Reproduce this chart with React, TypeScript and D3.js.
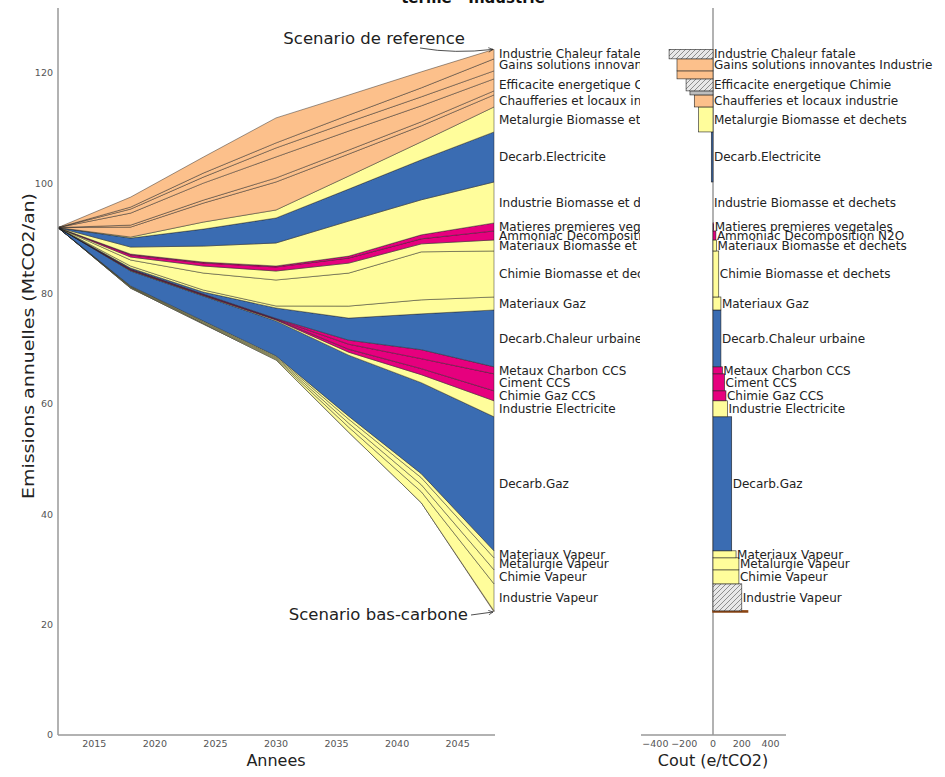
import React, { useEffect, useRef } from 'react';
import * as d3 from 'd3';

// time steps of the model
const YEARS = [2012, 2018, 2024, 2030, 2036, 2042, 2048];
// low-carbon scenario emissions (MtCO2/an)
const BAS_CARBONE = [92, 81.0, 74.5, 68.0, 54.9, 42.1, 22.3];

// measures stacked from the low-carbon curve up to the reference curve
const MEASURES = [
  '',
  'Industrie Vapeur',
  'Chimie Vapeur',
  'Metalurgie Vapeur',
  'Materiaux Vapeur',
  'Decarb.Gaz',
  'Industrie Electricite',
  'Chimie Gaz CCS',
  'Ciment CCS',
  'Metaux Charbon CCS',
  'Decarb.Chaleur urbaine',
  'Materiaux Gaz',
  'Chimie Biomasse et dechets',
  'Materiaux Biomasse et dechets',
  'Ammoniac Decomposition N2O',
  'Matieres premieres vegetales',
  'Industrie Biomasse et dechets',
  'Decarb.Electricite',
  'Metalurgie Biomasse et dechets',
  'Chaufferies et locaux industrie',
  '',
  'Efficacite energetique Chimie',
  '',
  'Gains solutions innovantes Industrie',
  'Industrie Chaleur fatale',
];

// abatement per measure for each year (MtCO2/an)
const ABATEMENT = [
  [0, 0, 0, 0, 0, 0, 0.2],
  [0, 0.1, 0.13, 0.18, 0.9, 2.0, 4.9],
  [0, 0.1, 0.13, 0.18, 0.73, 1.27, 2.54],
  [0, 0.1, 0.15, 0.18, 0.73, 1.27, 2.18],
  [0, 0.1, 0.15, 0.18, 0.54, 0.73, 1.27],
  [0, 2.72, 4.53, 6.35, 11.06, 16.5, 24.3],
  [0, 0.09, 0.09, 0.18, 0.54, 1.45, 2.9],
  [0, 0.09, 0.09, 0.09, 0.54, 1.09, 1.81],
  [0, 0.09, 0.09, 0.09, 0.91, 1.81, 3.08],
  [0, 0.09, 0.09, 0.09, 0.73, 1.63, 1.27],
  [0, 0.18, 0.36, 1.9, 4.0, 6.5, 10.3],
  [0, 0.36, 0.36, 0.36, 2.18, 2.54, 2.36],
  [0, 1.09, 3.08, 4.71, 5.98, 8.7, 8.34],
  [0, 0.54, 1.27, 1.63, 1.81, 1.45, 2.0],
  [0, 0.36, 0.54, 0.73, 0.91, 0.91, 1.63],
  [0, 0.18, 0.18, 0.18, 0.36, 0.73, 1.45],
  [0, 1.27, 2.9, 4.17, 6.35, 6.35, 7.43],
  [0, 1.63, 3.08, 4.53, 5.8, 7.25, 9.07],
  [0, 0.18, 1.27, 1.45, 2.36, 3.26, 4.53],
  [0, 1.81, 3.44, 5.08, 3.99, 2.9, 2.18],
  [0, 0.36, 0.54, 0.73, 0.73, 0.73, 0.73],
  [0, 2.18, 3.08, 3.81, 3.44, 2.9, 2.18],
  [0, 0.73, 1.09, 1.63, 1.63, 1.63, 1.45],
  [0, 0.36, 0.73, 0.91, 1.27, 1.63, 2.18],
  [0, 1.81, 2.9, 4.53, 3.63, 2.9, 1.72],
];

// abatement cost (e/tCO2)
const COSTS = [240, 200, 180, 180, 160, 130, 100, 90, 80, 65, 55, 55, 40, 25, 20, 5, 0, -12, -100, -130, -160, -187, -250, -250, -305];

const Y_TICKS = [0, 20, 40, 60, 80, 100, 120];
const X_TICKS = [2015, 2020, 2025, 2030, 2035, 2040, 2045];
const COST_TICKS = [-400, -200, 0, 200, 400];

// styles
const ORANGE = '#FCC08B';
const YELLOW = '#FFFD9B';
const BLUE = '#3A6CB2';
const PINK = '#E6007E';
const LAYER_COLORS = [
  ORANGE, YELLOW, YELLOW, YELLOW, YELLOW, BLUE, YELLOW, PINK, PINK, PINK,
  BLUE, YELLOW, YELLOW, YELLOW, PINK, PINK, YELLOW, BLUE, YELLOW, ORANGE,
  ORANGE, ORANGE, ORANGE, ORANGE, ORANGE,
];
const HATCHED = new Set([1, 21, 24]);
const GREY_BARS = new Set([20]);

const FONT = '"DejaVu Sans", Verdana, sans-serif';

const App: React.FC = () => {
  const svgRef = useRef<SVGSVGElement>(null);

  useEffect(() => {
    if (!svgRef.current) return;
    const svg = d3.select(svgRef.current);
    svg.selectAll('*').remove();

    const x = d3.scaleLinear().domain([2012, 2048]).range([58, 494]);
    const y = d3.scaleLinear().domain([0, 131.8]).range([735, 8]);
    const xc = d3.scaleLinear().domain([-500, 500]).range([641, 785]);

    const defs = svg.append('defs');
    const pat = defs.append('pattern')
      .attr('id', 'hatch')
      .attr('patternUnits', 'userSpaceOnUse')
      .attr('width', 5)
      .attr('height', 5);
    pat.append('rect').attr('width', 5).attr('height', 5).attr('fill', '#e8e8e8');
    pat.append('path')
      .attr('d', 'M-1,1 l2,-2 M0,5 l5,-5 M4,6 l2,-2')
      .attr('stroke', '#777')
      .attr('stroke-width', 0.8);

    // stack
    const keys = MEASURES.map((_, k) => String(k));
    const rows = YEARS.map((_, i) => {
      const r: Record<string, number> = {};
      keys.forEach((key, k) => { r[key] = ABATEMENT[k][i]; });
      return r;
    });
    const series = d3.stack<Record<string, number>>().keys(keys)(rows);

    const area = d3.area<d3.SeriesPoint<Record<string, number>>>()
      .x((_, i) => x(YEARS[i]))
      .y0((d, i) => y(BAS_CARBONE[i] + d[0]))
      .y1((d, i) => y(BAS_CARBONE[i] + d[1]));

    const gA = svg.append('g');
    gA.selectAll('path')
      .data(series)
      .enter().append('path')
      .attr('d', area)
      .attr('fill', (_, k) => LAYER_COLORS[k])
      .attr('stroke', '#222')
      .attr('stroke-opacity', 0.75)
      .attr('stroke-width', 0.6)
      .attr('stroke-linejoin', 'round');

    // left axes
    svg.append('line')
      .attr('x1', 58).attr('x2', 58).attr('y1', 8).attr('y2', 735)
      .attr('stroke', '#999').attr('stroke-width', 1.5);
    svg.append('line')
      .attr('x1', 58).attr('x2', 495).attr('y1', 735).attr('y2', 735)
      .attr('stroke', '#999').attr('stroke-width', 1.5);

    svg.append('g').selectAll('text')
      .data(Y_TICKS)
      .enter().append('text')
      .attr('x', 53)
      .attr('y', d => y(d))
      .attr('dy', '0.35em')
      .attr('text-anchor', 'end')
      .style('font-family', FONT)
      .style('font-size', '9.5px')
      .style('fill', '#555')
      .text(d => String(d));

    svg.append('g').selectAll('text')
      .data(X_TICKS)
      .enter().append('text')
      .attr('x', d => x(d))
      .attr('y', 747)
      .attr('text-anchor', 'middle')
      .style('font-family', FONT)
      .style('font-size', '9.5px')
      .style('fill', '#555')
      .text(d => String(d));

    svg.append('text')
      .attr('x', x(2030))
      .attr('y', 766)
      .attr('text-anchor', 'middle')
      .style('font-family', FONT)
      .style('font-size', '16px')
      .style('fill', '#222')
      .text('Annees');

    svg.append('text')
      .attr('transform', 'translate(34,346) rotate(-90)')
      .attr('text-anchor', 'middle')
      .attr('textLength', 306)
      .attr('lengthAdjust', 'spacingAndGlyphs')
      .style('font-family', FONT)
      .style('font-size', '16.5px')
      .style('fill', '#222')
      .text('Emissions annuelles (MtCO2/an)');

    // title (cut at the top in the original)
    svg.append('text')
      .attr('x', 473)
      .attr('y', 3)
      .attr('text-anchor', 'middle')
      .style('font-family', FONT)
      .style('font-size', '15px')
      .style('font-weight', 'bold')
      .style('fill', '#111')
      .text('terme - Industrie');

    // layer extents at final year
    const last = YEARS.length - 1;
    const bands = series.map((s, k) => ({
      k,
      lo: BAS_CARBONE[last] + s[last][0],
      hi: BAS_CARBONE[last] + s[last][1],
    }));
    const labelled = bands.filter(b => MEASURES[b.k] !== '');

    svg.append('g').selectAll('text')
      .data(labelled)
      .enter().append('text')
      .attr('x', 499)
      .attr('y', b => y((b.lo + b.hi) / 2))
      .attr('dy', '0.35em')
      .style('font-family', FONT)
      .style('font-size', '12px')
      .style('fill', '#222')
      .text(b => MEASURES[b.k]);

    // annotations
    const marker = defs.append('marker')
      .attr('id', 'arr')
      .attr('viewBox', '0 0 10 10')
      .attr('refX', 9).attr('refY', 5)
      .attr('markerWidth', 7).attr('markerHeight', 7)
      .attr('orient', 'auto');
    marker.append('path').attr('d', 'M1,1 L9,5 L1,9')
      .attr('fill', 'none').attr('stroke', '#222').attr('stroke-width', 1.2);

    const topRef = BAS_CARBONE[last] + series[series.length - 1][last][1];
    svg.append('text')
      .attr('x', 465).attr('y', 38)
      .attr('dy', '0.35em')
      .attr('text-anchor', 'end')
      .style('font-family', FONT)
      .style('font-size', '16.5px')
      .style('fill', '#222')
      .text('Scenario de reference');
    svg.append('path')
      .attr('d', `M420,48 Q455,54 ${x(2048) - 1},${y(topRef)}`)
      .attr('fill', 'none').attr('stroke', '#222').attr('stroke-width', 0.8)
      .attr('marker-end', 'url(#arr)');

    svg.append('text')
      .attr('x', 468).attr('y', 614)
      .attr('dy', '0.35em')
      .attr('text-anchor', 'end')
      .style('font-family', FONT)
      .style('font-size', '16.5px')
      .style('fill', '#222')
      .text('Scenario bas-carbone');
    svg.append('path')
      .attr('d', `M471,615 L${x(2048) - 1},${y(BAS_CARBONE[last])}`)
      .attr('fill', 'none').attr('stroke', '#222').attr('stroke-width', 0.8)
      .attr('marker-end', 'url(#arr)');

    // right panel: cost bars
    svg.append('rect')
      .attr('x', 640).attr('y', 8).attr('width', 147).attr('height', 727)
      .attr('fill', '#fff');
    svg.append('line')
      .attr('x1', xc(0)).attr('x2', xc(0)).attr('y1', 8).attr('y2', 735)
      .attr('stroke', '#999').attr('stroke-width', 1.5);
    svg.append('line')
      .attr('x1', 641).attr('x2', 786).attr('y1', 735).attr('y2', 735)
      .attr('stroke', '#999').attr('stroke-width', 1.5);

    const barFill = (k: number) => {
      if (HATCHED.has(k)) return 'url(#hatch)';
      if (GREY_BARS.has(k)) return '#bdbdbd';
      return LAYER_COLORS[k];
    };

    svg.append('g').selectAll('rect')
      .data(bands.filter(b => COSTS[b.k] !== 0))
      .enter().append('rect')
      .attr('x', b => xc(Math.min(0, COSTS[b.k])))
      .attr('width', b => Math.abs(xc(COSTS[b.k]) - xc(0)))
      .attr('y', b => y(b.hi))
      .attr('height', b => Math.max(0.5, y(b.lo) - y(b.hi)))
      .attr('fill', b => barFill(b.k))
      .attr('stroke', b => (b.k === 0 ? '#8B4513' : '#222'))
      .attr('stroke-width', b => (b.k === 0 ? 1.5 : 0.6));

    svg.append('g').selectAll('text')
      .data(labelled)
      .enter().append('text')
      .attr('x', b => xc(Math.max(0, COSTS[b.k])) + 1)
      .attr('y', b => y((b.lo + b.hi) / 2))
      .attr('dy', '0.35em')
      .style('font-family', FONT)
      .style('font-size', '12px')
      .style('fill', '#222')
      .text(b => MEASURES[b.k]);

    svg.append('g').selectAll('text')
      .data(COST_TICKS)
      .enter().append('text')
      .attr('x', d => xc(d))
      .attr('y', 747)
      .attr('text-anchor', 'middle')
      .style('font-family', FONT)
      .style('font-size', '9.5px')
      .style('fill', '#555')
      .text(d => (d < 0 ? '\u2212' + Math.abs(d) : String(d)));

    svg.append('text')
      .attr('x', xc(0))
      .attr('y', 766)
      .attr('text-anchor', 'middle')
      .style('font-family', FONT)
      .style('font-size', '16px')
      .style('fill', '#222')
      .text('Cout (e/tCO2)');
  }, []);

  return (
    <svg
      ref={svgRef}
      width={945}
      height={777}
      viewBox="0 0 945 777"
      style={{ position: 'absolute', left: 0, top: 0, background: '#fff' }}
    />
  );
};

export default App;
